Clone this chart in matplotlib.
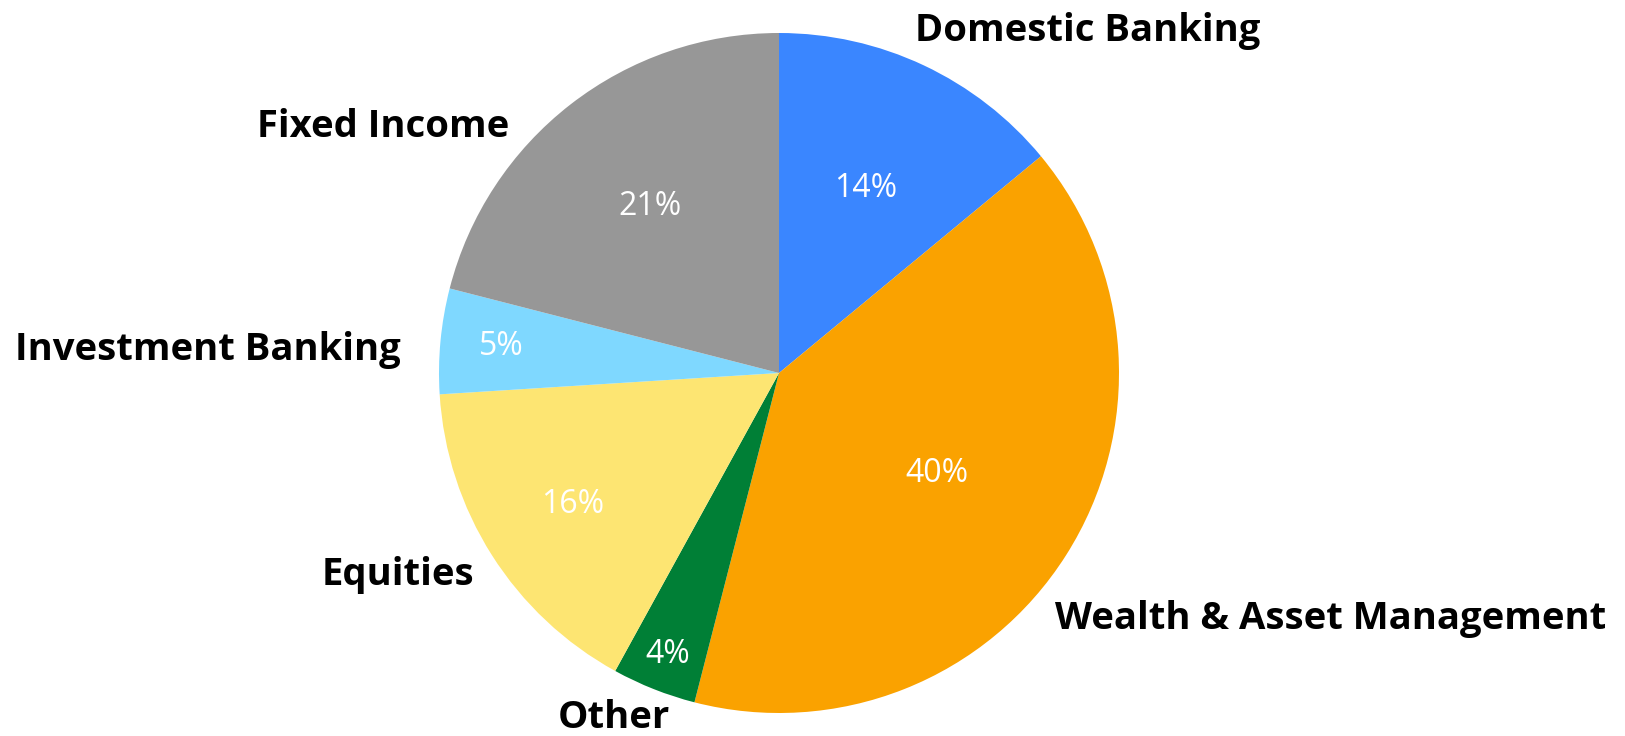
import numpy as np
import matplotlib.pyplot as plt

# revenue share by business segment, clockwise from 12 o'clock
segments = ['Domestic Banking', 'Wealth & Asset Management', 'Other',
            'Equities', 'Investment Banking', 'Fixed Income']
shares = [14, 40, 4, 16, 5, 21]
colors = ['#3A86FF', '#FAA200', '#007F36', '#FDE572', '#7FD8FF', '#979797']

# where each name and percentage sits, in pie radius units
name_pos = [(0.40, 1.006, 'left'), (0.812, -0.724, 'left'), (-0.485, -1.015, 'center'),
            (-0.897, -0.594, 'right'), (-1.112, 0.068, 'right'), (-0.794, 0.724, 'right')]
pct_dist = [0.60, 0.55, 0.89, 0.72, 0.82, 0.62]

W, H = 1625, 736
cx, cy, R = 779, 363, 340

fig = plt.figure(figsize=(W / 100, H / 100), dpi=100)
ax = fig.add_axes([0, 0, 1, 1])

wedges, _ = ax.pie(shares, colors=colors, startangle=90, counterclock=False,
                   center=(cx, cy), radius=R, wedgeprops=dict(linewidth=0))

# pie() resets the view, so fix the canvas afterwards
ax.set_xlim(0, W)
ax.set_ylim(0, H)
ax.set_aspect('equal')
ax.axis('off')

for w, val, d, (nx, ny, ha), name in zip(wedges, shares, pct_dist, name_pos, segments):
    mid = np.deg2rad((w.theta1 + w.theta2) / 2)
    ax.text(cx + d * R * np.cos(mid), cy + d * R * np.sin(mid), f'{val}%',
            ha='center', va='center', color='white', fontsize=23, family='Open Sans')
    ax.text(cx + nx * R, cy + ny * R, name, ha=ha, va='center', color='black',
            fontsize=27.5, fontweight='bold', family='Open Sans')

fig.savefig('out.png', dpi=100)
